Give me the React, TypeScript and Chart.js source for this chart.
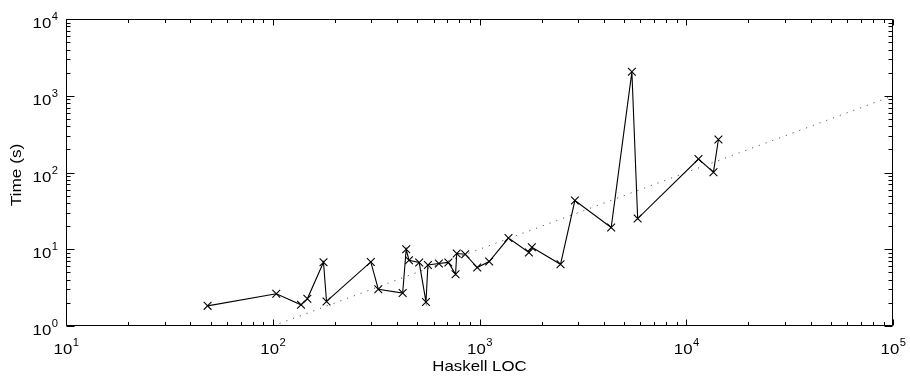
import React, { useEffect, useRef } from "react";
import { Chart, registerables } from "chart.js";
Chart.register(...registerables);

// Measured series: Haskell lines of code vs. time (s)
const locValues = [48.4, 104, 137, 147, 176, 182, 298, 324, 425, 442, 456, 511, 551, 563, 636, 707, 766, 776, 853, 975, 1114, 1381, 1734, 1792, 2465, 2893, 4334, 5458, 5821, 11460, 13540, 14310];
const timeValues = [1.83, 2.63, 1.89, 2.26, 6.77, 2.09, 6.83, 3.01, 2.69, 10.0, 7.19, 6.71, 2.06, 6.24, 6.51, 6.73, 4.72, 8.79, 8.61, 5.77, 6.91, 14.0, 9.06, 10.6, 6.37, 43.1, 19.2, 2049, 25.1, 150, 101, 269];

// Dotted reference line endpoints
const trendLoc = [100, 100000];
const trendTime = [1, 1000];

// Axis ranges and tick labels (powers of ten)
const xMin = 10;
const xMax = 100000;
const yMin = 1;
const yMax = 10000;
const xTickExponents = ["1", "2", "3", "4", "5"];
const yTickExponents = ["0", "1", "2", "3", "4"];

const xTitle = "Haskell LOC";
const yTitle = "Time (s)";

const FONT = "Liberation Sans, Arial, Helvetica, sans-serif";
const SX = 1.12; // horizontal stretch of text, as in the reference

function drawStretched(ctx: CanvasRenderingContext2D, text: string, x: number, y: number) {
  ctx.save();
  ctx.translate(x, y);
  ctx.scale(SX, 1);
  ctx.fillText(text, 0, 0);
  ctx.restore();
}

const axesPlugin = {
  id: "matlabAxes",
  afterDraw(chart: any) {
    const ctx: CanvasRenderingContext2D = chart.ctx;
    const xs = chart.scales.x;
    const ys = chart.scales.y;
    const { left, right, top, bottom } = chart.chartArea;
    ctx.save();
    ctx.strokeStyle = "#000";
    ctx.fillStyle = "#000";
    ctx.lineWidth = 1;
    const L = Math.round(left) + 0.5;
    const R = Math.round(right) - 0.5;
    const T = Math.round(top) + 0.5;
    const B = Math.round(bottom) - 0.5;
    ctx.beginPath();
    ctx.rect(L, T, R - L, B - T);
    ctx.stroke();

    // ticks
    ctx.beginPath();
    for (let d = xMin; d < xMax * 1.0001; d *= 10) {
      for (let m = 1; m <= 9; m++) {
        const v = d * m;
        if (v > xMax * 1.0001) break;
        const px = Math.round(xs.getPixelForValue(v)) + 0.5;
        const len = m === 1 ? 6 : 3.5;
        ctx.moveTo(px, B);
        ctx.lineTo(px, B - len);
        ctx.moveTo(px, T);
        ctx.lineTo(px, T + len);
      }
    }
    for (let d = yMin; d < yMax * 1.0001; d *= 10) {
      for (let m = 1; m <= 9; m++) {
        const v = d * m;
        if (v > yMax * 1.0001) break;
        const py = Math.round(ys.getPixelForValue(v)) + 0.5;
        const len = m === 1 ? 8 : 4;
        ctx.moveTo(L, py);
        ctx.lineTo(L + len, py);
        ctx.moveTo(R, py);
        ctx.lineTo(R - len, py);
      }
    }
    ctx.stroke();

    // tick labels
    const baseFont = `15px ${FONT}`;
    const supFont = `10px ${FONT}`;
    ctx.textBaseline = "alphabetic";
    ctx.textAlign = "left";
    xTickExponents.forEach((e) => {
      const v = Math.pow(10, Number(e));
      const px = xs.getPixelForValue(v);
      ctx.font = baseFont;
      const w10 = ctx.measureText("10").width * SX;
      ctx.font = supFont;
      const we = ctx.measureText(e).width * SX;
      const x0 = px - (w10 + we) / 2;
      ctx.font = baseFont;
      drawStretched(ctx, "10", x0, bottom + 28);
      ctx.font = supFont;
      drawStretched(ctx, e, x0 + w10 + 0.5, bottom + 20);
    });
    yTickExponents.forEach((e) => {
      const v = Math.pow(10, Number(e));
      const py = ys.getPixelForValue(v);
      ctx.font = supFont;
      const we = ctx.measureText(e).width * SX;
      ctx.font = baseFont;
      const w10 = ctx.measureText("10").width * SX;
      const xEnd = left - 8;
      const x0 = xEnd - we - w10 - 0.5;
      drawStretched(ctx, "10", x0, py + 9);
      ctx.font = supFont;
      drawStretched(ctx, e, x0 + w10 + 0.5, py + 1);
    });

    // axis titles
    ctx.font = `15px ${FONT}`;
    ctx.textAlign = "center";
    ctx.textBaseline = "middle";
    ctx.save();
    ctx.translate((left + right) / 2, bottom + 41);
    ctx.scale(SX, 1);
    ctx.fillText(xTitle, 0, 0);
    ctx.restore();
    ctx.save();
    ctx.translate(17, 175);
    ctx.rotate(-Math.PI / 2);
    ctx.scale(1.15, 1);
    ctx.fillText(yTitle, 0, 0);
    ctx.restore();
    ctx.restore();
  },
};

export default function App() {
  const ref = useRef<HTMLCanvasElement | null>(null);
  useEffect(() => {
    document.body.style.margin = "0";
    const canvas = ref.current;
    if (!canvas) return;
    const mainData = locValues.map((x, i) => ({ x, y: timeValues[i] }));
    const trendData = trendLoc.map((x, i) => ({ x, y: trendTime[i] }));
    const chart = new Chart(canvas, {
      type: "scatter",
      data: {
        datasets: [
          {
            label: "trend",
            data: trendData,
            showLine: true,
            borderColor: "#555",
            borderWidth: 1,
            borderDash: [1.2, 6],
            pointRadius: 0,
            pointHoverRadius: 0,
          },
          {
            label: "time",
            data: mainData,
            showLine: true,
            borderColor: "#000",
            borderWidth: 1.1,
            pointStyle: "crossRot",
            pointRadius: 5.5,
            pointBorderColor: "#000",
            pointBorderWidth: 1.1,
            pointBackgroundColor: "#000",
          },
        ],
      },
      options: {
        responsive: false,
        animation: false,
        events: [],
        layout: { padding: { left: 66, right: 17, top: 19, bottom: 57 } },
        plugins: { legend: { display: false }, tooltip: { enabled: false }, title: { display: false } },
        scales: {
          x: { type: "logarithmic", min: xMin, max: xMax, display: false },
          y: { type: "logarithmic", min: yMin, max: yMax, display: false },
        },
      },
      plugins: [axesPlugin],
    });
    return () => chart.destroy();
  }, []);
  return (
    <div style={{ position: "fixed", left: 0, top: 0, width: 910, height: 383, background: "#fff" }}>
      <canvas ref={ref} width={910} height={383} style={{ display: "block" }} />
    </div>
  );
}
